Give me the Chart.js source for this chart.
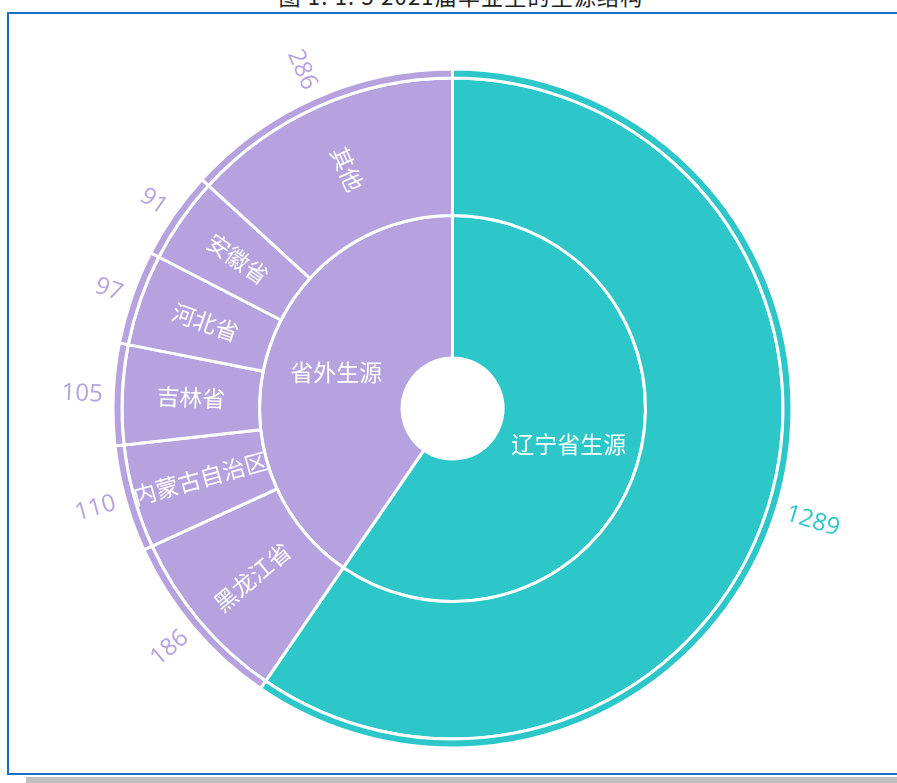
<!DOCTYPE html>
<html><head><meta charset="utf-8">
<script src="https://cdn.jsdelivr.net/npm/chart.js@4.4.1/dist/chart.umd.min.js"></script>
<style>
html,body{margin:0;padding:0;background:#fff;width:897px;height:783px;overflow:hidden;}
body{position:relative;}
#title{position:absolute;left:161px;width:600px;top:-16px;text-align:center;font-family:"Noto Sans CJK SC";font-size:22px;line-height:22px;color:#222;white-space:pre;letter-spacing:1.2px;}
#frame{position:absolute;left:7px;top:12px;width:940px;height:759px;border-left:2px solid #1570c8;border-top:2px solid #1570c8;border-bottom:2px solid #1570c8;box-sizing:content-box;}
#shadow{position:absolute;left:26px;top:777px;width:900px;height:6px;background:#c0c0c0;}
#c{position:absolute;left:0;top:0;}
</style></head>
<body>
<div id="title">图 1. 1. 5 2021届毕业生的生源结构</div>
<div id="frame"></div>
<div id="shadow"></div>
<canvas id="c" width="897" height="783"></canvas>
<script>
// ---- data ----
const outerNames  = ['', '黑龙江省', '内蒙古自治区', '吉林省', '河北省', '安徽省', '其他'];
const outerValues = [1289, 186, 110, 105, 97, 91, 286];
const innerNames  = ['辽宁省生源', '省外生源'];
const innerValues = [1289, 875];
const outerColors = ['#2ec7c9', '#b6a2de', '#b6a2de', '#b6a2de', '#b6a2de', '#b6a2de', '#b6a2de'];
const innerColors = ['#2ec7c9', '#b6a2de'];

const OUTER_R = 339.5, HOLE_R = 50.5;

const labelPlugin = {
  id: 'sunLabels',
  afterDatasetsDraw(chart) {
    const ctx = chart.ctx;
    ctx.save();
    ctx.textBaseline = 'middle';
    // values outside the thin band
    const m0 = chart.getDatasetMeta(0);
    m0.data.forEach((arc, i) => {
      const p = arc.getProps(['x', 'y', 'startAngle', 'endAngle', 'outerRadius'], true);
      const a = (p.startAngle + p.endAngle) / 2;
      const r = p.outerRadius + 10.5;
      ctx.save();
      ctx.translate(p.x + Math.cos(a) * r, p.y + Math.sin(a) * r);
      ctx.font = '24px "Open Sans"';
      ctx.fillStyle = outerColors[i];
      if (Math.cos(a) >= 0) { ctx.rotate(a); ctx.textAlign = 'left'; }
      else { ctx.rotate(a + Math.PI); ctx.textAlign = 'right'; }
      ctx.fillText(String(outerValues[i]), 0, 1);
      ctx.restore();
    });
    // names in main outer ring (radial)
    const m1 = chart.getDatasetMeta(1);
    m1.data.forEach((arc, i) => {
      if (!outerNames[i]) return;
      const p = arc.getProps(['x', 'y', 'startAngle', 'endAngle', 'innerRadius', 'outerRadius'], true);
      const a = (p.startAngle + p.endAngle) / 2;
      const r = (p.innerRadius + p.outerRadius) / 2;
      ctx.save();
      ctx.translate(p.x + Math.cos(a) * r, p.y + Math.sin(a) * r);
      ctx.rotate(Math.cos(a) >= 0 ? a : a + Math.PI);
      ctx.font = '23px "Noto Sans CJK SC"';
      ctx.fillStyle = '#ffffff';
      ctx.textAlign = 'center';
      ctx.fillText(outerNames[i], 0, 0);
      ctx.restore();
    });
    // inner ring names (horizontal)
    const m2 = chart.getDatasetMeta(2);
    m2.data.forEach((arc, i) => {
      const p = arc.getProps(['x', 'y', 'startAngle', 'endAngle', 'innerRadius', 'outerRadius'], true);
      const a = (p.startAngle + p.endAngle) / 2;
      const r = (p.innerRadius + p.outerRadius) / 2;
      ctx.font = '23px "Noto Sans CJK SC"';
      ctx.fillStyle = '#ffffff';
      ctx.textAlign = 'center';
      ctx.fillText(innerNames[i], p.x + Math.cos(a) * r, p.y + Math.sin(a) * r);
    });
    ctx.restore();
  }
};

new Chart(document.getElementById('c'), {
  type: 'doughnut',
  data: {
    labels: outerNames,
    datasets: [
      { data: outerValues, backgroundColor: outerColors, borderColor: '#ffffff', borderWidth: 3, weight: 9 },
      { data: outerValues, backgroundColor: outerColors, borderColor: '#ffffff', borderWidth: 3, weight: 137.5 },
      { data: innerValues, backgroundColor: innerColors, borderColor: '#ffffff', borderWidth: 3, weight: 142.5 }
    ]
  },
  options: {
    responsive: false,
    animation: false,
    events: [],
    radius: OUTER_R,
    cutout: (HOLE_R / OUTER_R * 100) + '%',
    layout: { padding: { left: 8, top: 34, right: 0, bottom: 0 } },
    plugins: { legend: { display: false }, tooltip: { enabled: false }, title: { display: false } }
  },
  plugins: [labelPlugin]
});
</script>
</body></html>
